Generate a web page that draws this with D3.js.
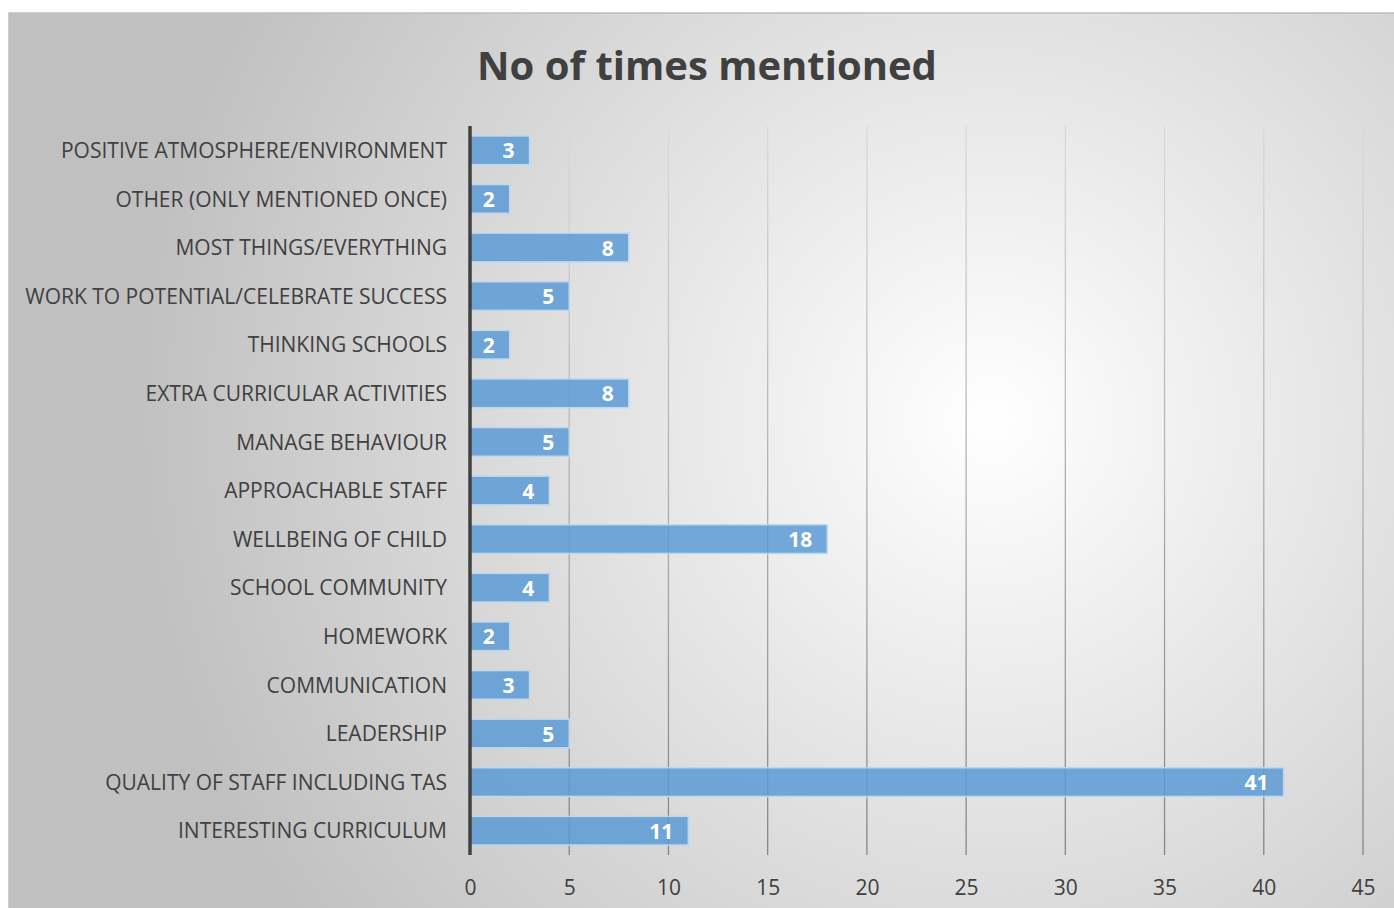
<!DOCTYPE html>
<html><head><meta charset="utf-8">
<script src="https://cdn.jsdelivr.net/npm/d3@7"></script>
<style>html,body{margin:0;padding:0;background:#fff;overflow:hidden}</style>
</head><body>
<svg id="c" width="1394" height="908"></svg>
<script>
const categories = [
  "POSITIVE ATMOSPHERE/ENVIRONMENT",
  "OTHER (ONLY MENTIONED ONCE)",
  "MOST THINGS/EVERYTHING",
  "WORK TO POTENTIAL/CELEBRATE SUCCESS",
  "THINKING SCHOOLS",
  "EXTRA CURRICULAR ACTIVITIES",
  "MANAGE BEHAVIOUR",
  "APPROACHABLE STAFF",
  "WELLBEING OF CHILD",
  "SCHOOL COMMUNITY",
  "HOMEWORK",
  "COMMUNICATION",
  "LEADERSHIP",
  "QUALITY OF STAFF INCLUDING TAS",
  "INTERESTING CURRICULUM"
];
const values = [3, 2, 8, 5, 2, 8, 5, 4, 18, 4, 2, 3, 5, 41, 11];
const tickValues = [0, 5, 10, 15, 20, 25, 30, 35, 40, 45];
const title = "No of times mentioned";

const svg = d3.select("#c");
const defs = svg.append("defs");
const rg = defs.append("radialGradient").attr("id","bg")
  .attr("gradientUnits","userSpaceOnUse").attr("cx",990).attr("cy",420).attr("r",860);
rg.append("stop").attr("offset","0%").attr("stop-color","#ffffff");
rg.append("stop").attr("offset","100%").attr("stop-color","#c0c0c0");
const gg = defs.append("linearGradient").attr("id","grid")
  .attr("gradientUnits","userSpaceOnUse").attr("x1",0).attr("y1",126).attr("x2",0).attr("y2",855);
gg.append("stop").attr("offset","0%").attr("stop-color","#dadada");
gg.append("stop").attr("offset","100%").attr("stop-color","#858585");

svg.append("rect").attr("x",9).attr("y",13).attr("width",1400).attr("height",900)
  .attr("fill","url(#bg)").attr("stroke","#bdbdbd").attr("stroke-width",1.5);

svg.append("text").attr("x",707).attr("y",80).attr("text-anchor","middle")
  .attr("font-family","'Open Sans', sans-serif").attr("font-weight","bold")
  .attr("font-size",40).attr("fill","#404040").text(title);

const x = d3.scaleLinear().domain([0,45]).range([470,1363]);
const y = d3.scaleBand().domain(categories).range([126,855]).paddingInner(0.41).paddingOuter(0.205);

// gridlines
svg.append("g").selectAll("line").data(tickValues.slice(1)).join("line")
  .attr("x1",d=>x(d)).attr("x2",d=>x(d)).attr("y1",126).attr("y2",855)
  .attr("stroke","url(#grid)").attr("stroke-width",1.3);

// bars
svg.append("g").selectAll("rect").data(values).join("rect")
  .attr("x",x(0)).attr("y",(d,i)=>y(categories[i]))
  .attr("width",d=>x(d)-x(0)).attr("height",y.bandwidth())
  .attr("fill","#5b9bd5").attr("fill-opacity",0.85)
  .attr("stroke","#bdd7ee").attr("stroke-width",1.5);

// value labels
svg.append("g").selectAll("text").data(values).join("text")
  .attr("x",d=>x(d)-15).attr("y",(d,i)=>y(categories[i])+y.bandwidth()/2+8)
  .attr("text-anchor","end").attr("font-family","'Open Sans', sans-serif")
  .attr("font-weight","bold").attr("font-size",21).attr("fill","#ffffff").text(d=>d);

// y axis
const ya = svg.append("g").attr("transform","translate(470,1)")
  .call(d3.axisLeft(y).tickSize(0).tickPadding(23));
ya.select(".domain").attr("stroke","#404040").attr("stroke-width",3.5).attr("d","M0,125V854");
ya.selectAll("text").attr("font-family","'Open Sans', sans-serif").attr("font-size",21)
  .attr("fill","#404040");

// x axis
const xa = svg.append("g").attr("transform","translate(0,856)")
  .call(d3.axisBottom(x).tickValues(tickValues).tickSize(0).tickPadding(24));
xa.select(".domain").remove();
xa.selectAll("text").attr("font-family","'Open Sans', sans-serif").attr("font-size",21)
  .attr("fill","#404040");
</script>
</body></html>
